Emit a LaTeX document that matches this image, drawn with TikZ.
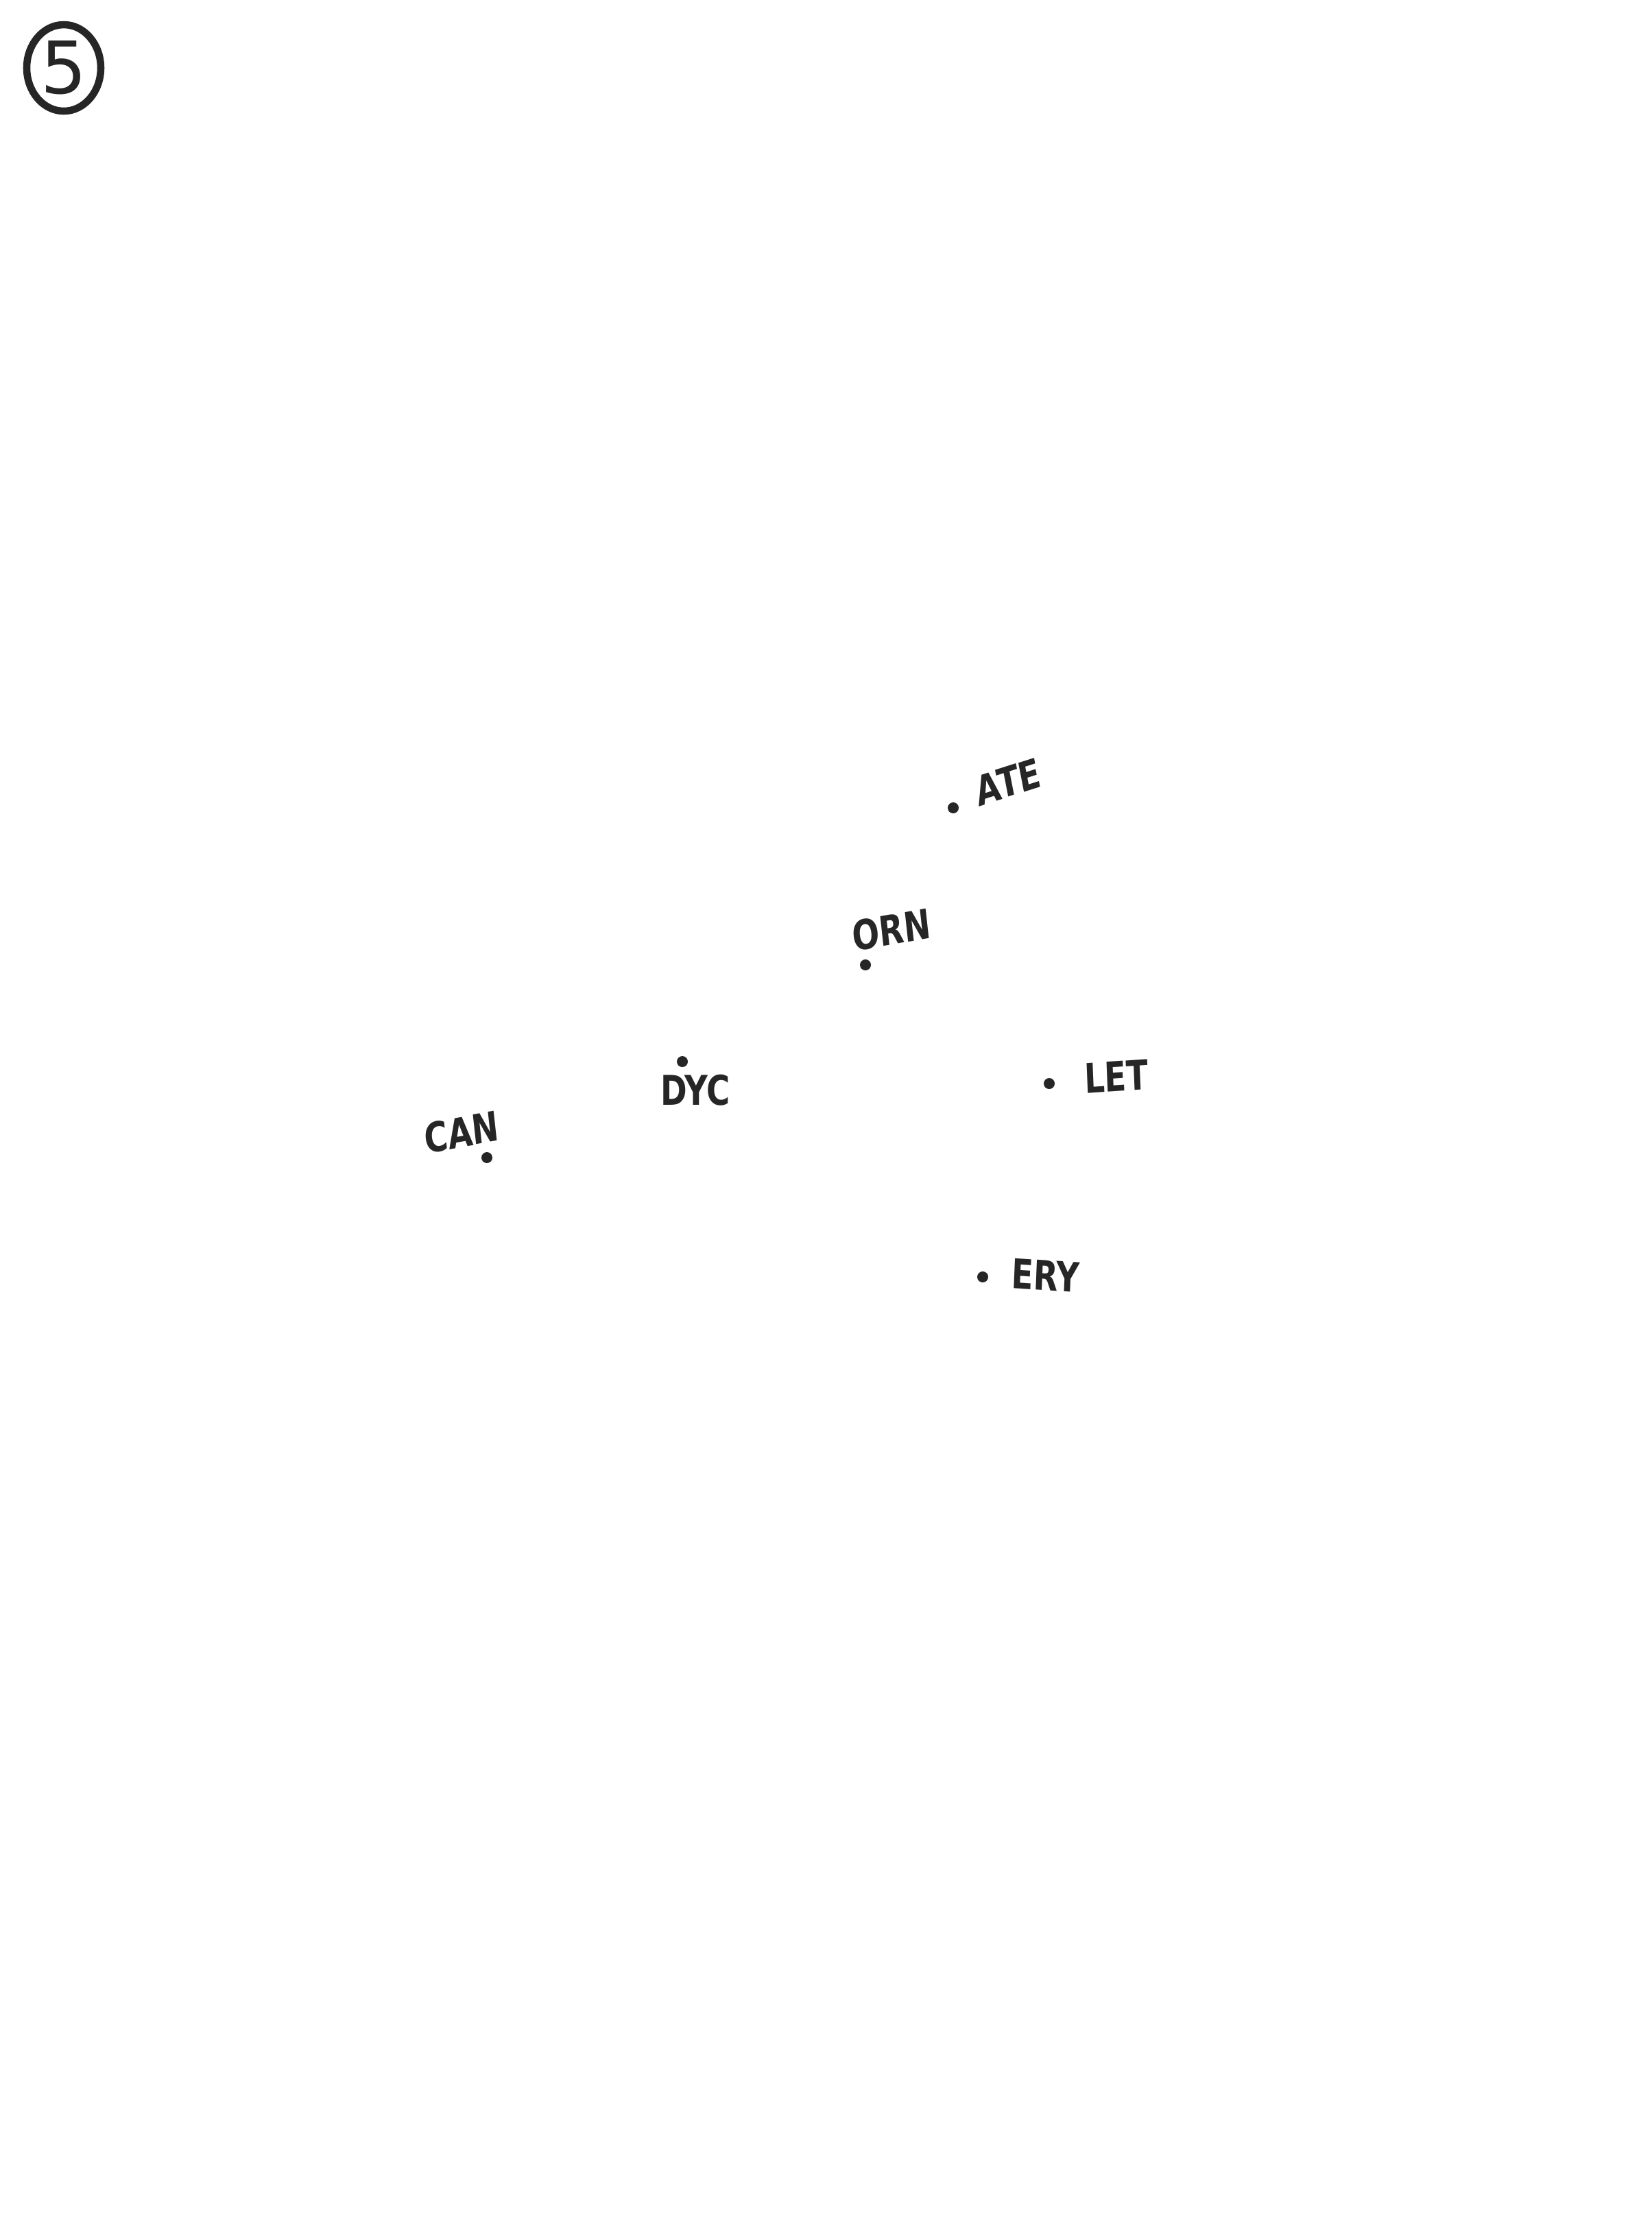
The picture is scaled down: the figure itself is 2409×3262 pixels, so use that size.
\documentclass[tikz,border=0pt]{standalone}
\usepackage{fontspec}
\setmainfont{DejaVu Sans}
\newcommand{\mapdot}[2]{
	\fill[black!85] (#2) circle (8);
	\coordinate (#1) at (#2);
}
\newcommand{\maplabel}[4]{
	\node[lbl,rotate=#3] (#1) at (#2) {#4};
}
\tikzset{lbl/.style={inner sep=0pt,xscale=0.78,text=black!85,font=\fontsize{17}{20}\selectfont\bfseries}}

\begin{document}
\begin{tikzpicture}[x=0.01cm,y=-0.01cm]
	\useasboundingbox[fill=white] (0,0) rectangle (2409,3262);

	% page number
	\draw[line width=3pt,black!85] (93,99) ellipse (54 and 63);
	\node[inner sep=0pt,text=black!85,font=\fontsize{30}{34}\selectfont] (num) at (93,99) {5};

	\mapdot{ateD}{1390,1178}
	\maplabel{ate}{1470,1140}{14}{ATE}

	\mapdot{ornD}{1262,1407}
	\maplabel{orn}{1300,1356}{8}{ORN}

	\mapdot{dycD}{995,1548}
	\maplabel{dyc}{1014,1590}{0}{DYC}

	\mapdot{canD}{710,1688}
	\maplabel{can}{673,1651}{8}{CAN}

	\mapdot{letD}{1530,1580}
	\maplabel{let}{1628,1570}{3}{LET}

	\mapdot{eryD}{1433,1862}
	\maplabel{ery}{1525,1860}{-3}{ERY}
\end{tikzpicture}
\end{document}
